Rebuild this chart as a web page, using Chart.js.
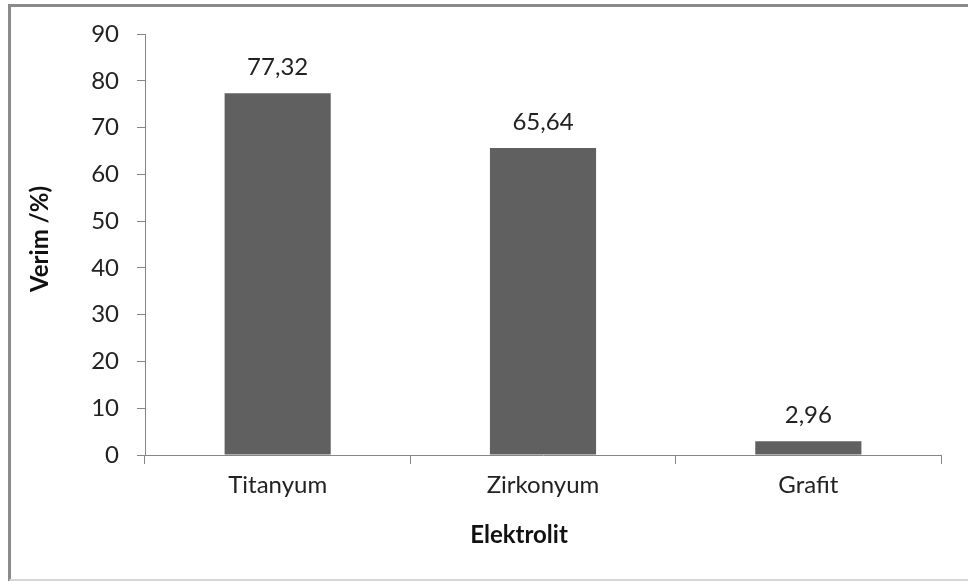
<!DOCTYPE html>
<html>
<head>
<meta charset="utf-8">
<script src="https://cdn.jsdelivr.net/npm/chart.js@4/dist/chart.umd.min.js"></script>
<style>
  html, body { margin: 0; padding: 0; background: #fff; }
  #wrap { width: 968px; height: 581px; position: relative; }
</style>
</head>
<body>
<div id="wrap"><canvas id="c" width="968" height="581"></canvas></div>
<script>
// Electrode materials and measured efficiency (%)
const categories = ['Titanyum', 'Zirkonyum', 'Grafit'];
const efficiency = [77.32, 65.64, 2.96];
const yTicks = [0, 10, 20, 30, 40, 50, 60, 70, 80, 90];
const xTitle = 'Elektrolit';
const yTitle = 'Verim /%)';

const FONT = 'Lato, Calibri, "Open Sans", sans-serif';
const AXIS_GRAY = '#868686';
const TEXT_SIZE = 24;

// Frame around the whole chart object
const framePlugin = {
  id: 'frame',
  beforeDraw(chart) {
    const ctx = chart.ctx;
    ctx.save();
    ctx.fillStyle = '#ffffff';
    ctx.fillRect(0, 0, chart.width, chart.height);
    ctx.strokeStyle = '#8a8a8a';
    ctx.lineWidth = 3;
    ctx.beginPath();
    ctx.moveTo(9.5, chart.height);
    ctx.lineTo(9.5, 5.5);
    ctx.lineTo(chart.width, 5.5);
    ctx.stroke();
    ctx.strokeStyle = '#d6d6d6';
    ctx.lineWidth = 2;
    ctx.beginPath();
    ctx.moveTo(9.5, chart.height - 1);
    ctx.lineTo(chart.width, chart.height - 1);
    ctx.stroke();
    ctx.restore();
  }
};

// Value labels above bars and the two axis titles
const labelPlugin = {
  id: 'labels',
  afterDatasetsDraw(chart) {
    const ctx = chart.ctx;
    const meta = chart.getDatasetMeta(0);
    ctx.save();
    ctx.fillStyle = '#222222';
    ctx.font = TEXT_SIZE + 'px ' + FONT;
    ctx.textAlign = 'center';
    ctx.textBaseline = 'middle';
    meta.data.forEach((bar, i) => {
      const txt = efficiency[i].toFixed(2).replace('.', ',');
      ctx.fillText(txt, bar.x, bar.y - 26);
    });

    const area = chart.chartArea;
    ctx.fillStyle = '#111111';
    ctx.font = 'bold ' + TEXT_SIZE + 'px ' + FONT;
    ctx.fillText(xTitle, (area.left + area.right) / 2 - 24, 535);

    ctx.translate(40, 239);
    ctx.rotate(-Math.PI / 2);
    ctx.fillText(yTitle, 0, 0);
    ctx.restore();
  }
};

new Chart(document.getElementById('c'), {
  type: 'bar',
  data: {
    labels: categories,
    datasets: [{
      data: efficiency,
      backgroundColor: '#606060',
      borderWidth: 0,
      barPercentage: 0.4,
      categoryPercentage: 1.0
    }]
  },
  options: {
    responsive: false,
    animation: false,
    events: [],
    layout: { padding: { top: 34, right: 27, left: 0, bottom: 0 } },
    plugins: {
      legend: { display: false },
      tooltip: { enabled: false },
      title: { display: false }
    },
    scales: {
      x: {
        grid: {
          display: true,
          offset: true,
          drawOnChartArea: false,
          drawTicks: true,
          tickLength: 9,
          color: AXIS_GRAY
        },
        border: { display: true, color: AXIS_GRAY, width: 1 },
        ticks: {
          color: '#222222',
          font: { family: FONT, size: TEXT_SIZE },
          padding: 7,
          maxRotation: 0
        },
        afterFit(scale) { scale.height = 581 - 455; }
      },
      y: {
        min: 0,
        max: 90,
        afterBuildTicks(scale) { scale.ticks = yTicks.map(v => ({ value: v })); },
        grid: {
          display: true,
          drawOnChartArea: false,
          drawTicks: true,
          tickLength: 8,
          color: AXIS_GRAY
        },
        border: { display: true, color: AXIS_GRAY, width: 1 },
        ticks: {
          color: '#222222',
          font: { family: FONT, size: TEXT_SIZE },
          padding: 18
        },
        afterFit(scale) { scale.width = 145; }
      }
    }
  },
  plugins: [framePlugin, labelPlugin]
});
</script>
</body>
</html>
